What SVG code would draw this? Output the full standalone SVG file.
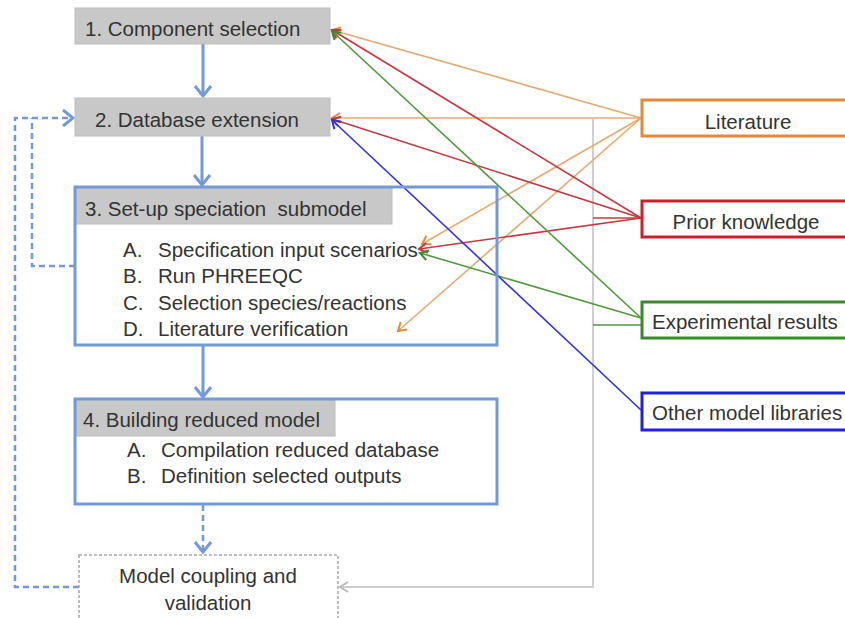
<svg xmlns="http://www.w3.org/2000/svg" width="845" height="618" viewBox="0 0 845 618">
<style>
text{font-family:"Liberation Sans",Arial,sans-serif;font-size:20.5px;fill:#333;white-space:pre}
.hdr{fill:#c8c8c8;stroke:#bdbdbd;stroke-width:1}
.frame{fill:none;stroke:#7399d9;stroke-width:3}
.main{stroke:#7399d9;stroke-width:3;fill:none}
.dash{stroke:#7399d9;stroke-width:2.5;fill:none;stroke-dasharray:6,4}
.lit{stroke:#e6aa72;stroke-width:1.6;fill:none}
.pri{stroke:#c8363e;stroke-width:1.6;fill:none}
.exp{stroke:#4e9a3c;stroke-width:1.6;fill:none}
.oth{stroke:#3434dc;stroke-width:1.6;fill:none}
.gry{stroke:#cfcfcf;stroke-width:2;fill:none}
</style>
<defs>
<marker id="mb" markerUnits="userSpaceOnUse" viewBox="-12 -10 14 20" refX="0" refY="0" markerWidth="14" markerHeight="20" orient="auto"><path d="M-10,-8 L0,0 L-10,8" fill="none" stroke="#7399d9" stroke-width="3"/></marker>
<marker id="mo" markerUnits="userSpaceOnUse" viewBox="-10 -7 12 14" refX="0" refY="0" markerWidth="12" markerHeight="14" orient="auto"><path d="M-8,-5 L0,0 L-8,5" fill="none" stroke="#e08a3a" stroke-width="2"/></marker>
<marker id="mr" markerUnits="userSpaceOnUse" viewBox="-10 -7 12 14" refX="0" refY="0" markerWidth="12" markerHeight="14" orient="auto"><path d="M-8,-5 L0,0 L-8,5" fill="none" stroke="#c8363e" stroke-width="2"/></marker>
<marker id="mg" markerUnits="userSpaceOnUse" viewBox="-10 -7 12 14" refX="0" refY="0" markerWidth="12" markerHeight="14" orient="auto"><path d="M-8,-5 L0,0 L-8,5" fill="none" stroke="#3d8a2c" stroke-width="2"/></marker>
<marker id="mu" markerUnits="userSpaceOnUse" viewBox="-10 -7 12 14" refX="0" refY="0" markerWidth="12" markerHeight="14" orient="auto"><path d="M-8,-5 L0,0 L-8,5" fill="none" stroke="#3434dc" stroke-width="2"/></marker>
<marker id="mgy" markerUnits="userSpaceOnUse" viewBox="-10 -7 12 14" refX="0" refY="0" markerWidth="12" markerHeight="14" orient="auto"><path d="M-8,-5 L0,0 L-8,5" fill="none" stroke="#bbbbbb" stroke-width="2"/></marker>
</defs>
<rect width="845" height="618" fill="#fff"/>

<g id="connectors">
<line class="main" x1="203" y1="44" x2="203" y2="96" marker-end="url(#mb)"/>
<line class="main" x1="202" y1="136" x2="202" y2="185" marker-end="url(#mb)"/>
<line class="main" x1="203" y1="346" x2="203" y2="397" marker-end="url(#mb)"/>
<line class="dash" x1="203" y1="505" x2="203" y2="552" marker-end="url(#mb)"/>
<polyline class="dash" points="75,266 32,266 32,118"/>
<polyline class="dash" points="79,587 15,587 15,118 73,118" marker-end="url(#mb)"/>
<polyline class="gry" points="593,119 593,587 340,587" marker-end="url(#mgy)"/>
<line class="lit" x1="641" y1="118" x2="332" y2="30" marker-end="url(#mo)"/>
<line class="lit" x1="641" y1="118" x2="332" y2="118" marker-end="url(#mo)"/>
<line class="lit" x1="641" y1="118" x2="422" y2="244" marker-end="url(#mo)"/>
<line class="lit" x1="641" y1="118" x2="398" y2="331" marker-end="url(#mo)"/>
<line class="pri" x1="641" y1="218" x2="332" y2="30" marker-end="url(#mr)"/>
<line class="pri" x1="641" y1="218" x2="332" y2="119" marker-end="url(#mr)"/>
<line class="pri" x1="641" y1="218" x2="419" y2="249" marker-end="url(#mr)"/>
<line class="pri" x1="593" y1="218" x2="641" y2="218"/>
<line class="exp" x1="641" y1="318" x2="332" y2="31" marker-end="url(#mg)"/>
<line class="exp" x1="641" y1="318" x2="420" y2="253" marker-end="url(#mg)"/>
<line class="exp" x1="593" y1="325" x2="641" y2="325"/>
<line class="oth" x1="641" y1="410" x2="332" y2="120" marker-end="url(#mu)"/>
</g>

<g id="n1">
<rect class="hdr" x="75" y="8" width="255" height="36"/>
<text x="85" y="36">1. Component selection</text>
</g>
<g id="n2">
<rect class="hdr" x="75" y="98" width="255" height="38"/>
<text x="95" y="127">2. Database extension</text>
</g>
<g id="n3">
<rect class="hdr" x="76" y="188" width="316" height="36"/>
<rect class="frame" x="75" y="187" width="422" height="158"/>
<text x="85" y="216" xml:space="preserve">3. Set-up speciation  submodel</text>
<text x="123" y="257">A.</text><text x="158" y="257">Specification input scenarios</text>
<text x="123" y="283">B.</text><text x="158" y="283">Run PHREEQC</text>
<text x="123" y="310">C.</text><text x="158" y="310">Selection species/reactions</text>
<text x="123" y="336">D.</text><text x="158" y="336">Literature verification</text>
</g>
<g id="n4">
<rect class="hdr" x="76" y="400" width="259" height="36"/>
<rect class="frame" x="75" y="399" width="422" height="105"/>
<text x="83" y="427">4. Building reduced model</text>
<text x="127" y="457">A.</text><text x="161" y="457">Compilation reduced database</text>
<text x="127" y="483">B.</text><text x="161" y="483">Definition selected outputs</text>
</g>
<g id="n5">
<rect x="79" y="555" width="259" height="70" fill="#fff" stroke="#a8a8a8" stroke-width="1.5" stroke-dasharray="3,2"/>
<text x="208" y="583" text-anchor="middle">Model coupling and</text>
<text x="208" y="610" text-anchor="middle">validation</text>
</g>
<g id="literature">
<rect x="642" y="100" width="220" height="36" fill="#fff" stroke="#e08a3a" stroke-width="3"/>
<text x="748" y="129" text-anchor="middle">Literature</text>
</g>
<g id="prior">
<rect x="642" y="201" width="220" height="36" fill="#fff" stroke="#c8232d" stroke-width="3"/>
<text x="746" y="229" text-anchor="middle">Prior knowledge</text>
</g>
<g id="experimental">
<rect x="642" y="302" width="220" height="36" fill="#fff" stroke="#3d8a2c" stroke-width="3"/>
<text x="652" y="329">Experimental results</text>
</g>
<g id="other">
<rect x="642" y="393" width="220" height="37" fill="#fff" stroke="#2020e0" stroke-width="3"/>
<text x="652" y="420">Other model libraries</text>
</g>
</svg>
